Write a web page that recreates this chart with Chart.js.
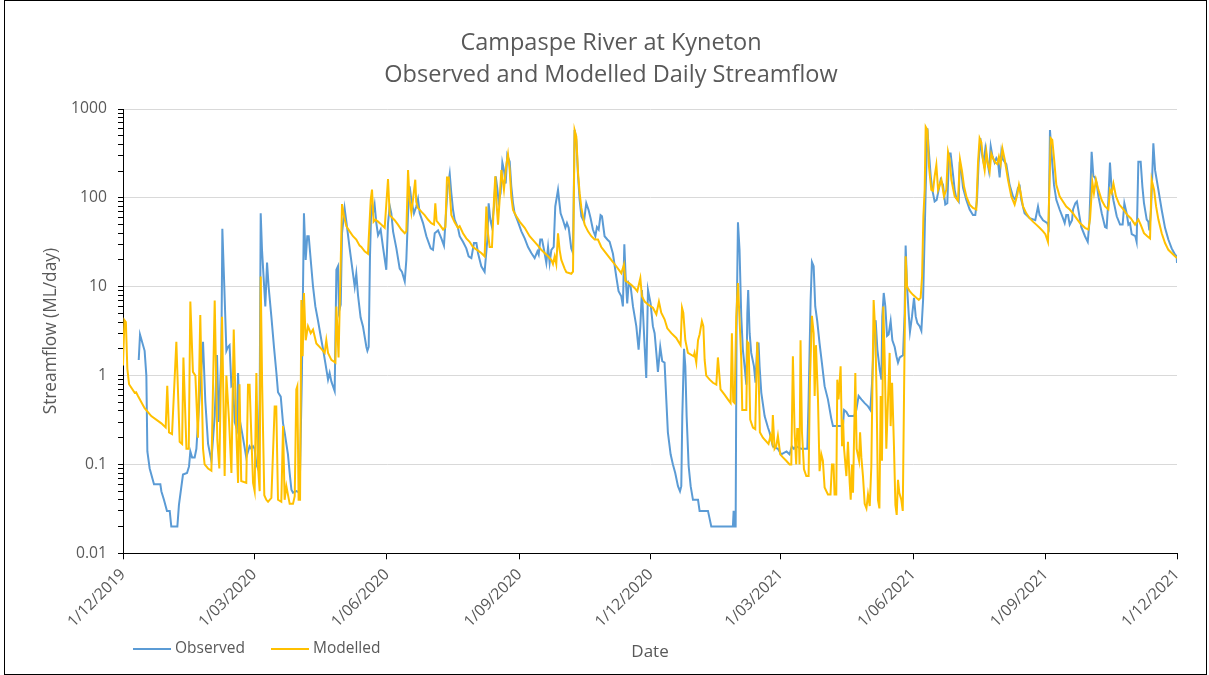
<!DOCTYPE html>
<html>
<head>
<meta charset="utf-8">
<script src="https://cdn.jsdelivr.net/npm/chart.js@4/dist/chart.umd.min.js"></script>
<style>
  html, body { margin: 0; padding: 0; background: #fff; }
</style>
</head>
<body>
<canvas id="flowChart" width="1209" height="675"></canvas>
<script>
// days counted from 1/12/2019, flows in ML/day
const obsDay = [10.9, 11.8, 15, 16.2, 16.9, 18.5, 21.5, 25.9, 26.6, 28.4, 30.5, 32.4, 33.5, 37.7, 38.8, 41.6, 44.4, 45.8, 46.7, 47.9,
  49.7, 50.9, 55.5, 57.1, 59, 61.3, 63.6, 65.2, 66.4, 68.2, 68.9, 70.1, 71.7, 72.8, 73.9, 75.2, 76.3, 77.5, 79, 79.8,
  80.9, 83.2, 85.5, 87.8, 89, 90.2, 91.3, 92.5, 93.6, 94.8, 95.5, 96.4, 98.7, 99.9, 101, 102.9, 104.7, 106.4, 107.5, 109.4,
  111, 112.1, 114.4, 115.6, 116.8, 117.9, 120.2, 122.5, 124.1, 125.5, 126.7, 127.8, 128.8, 130.2, 131.8, 133.4, 135.2, 137.6, 138.7, 140.3,
  142.2, 143.3, 144.5, 146.8, 148, 149.1, 149.8, 151, 151.9, 153.7, 154.9, 157.2, 159.5, 160.7, 161.8, 163, 164.8, 166.4, 168.8, 169.5,
  170.4, 171.3, 172.2, 173.4, 174.5, 175.7, 176.9, 178.7, 180.3, 182.6, 183.8, 185, 186.1, 187.3, 189.6, 191.9, 193.5, 195.4, 196.5, 197.7,
  198.8, 200, 201.8, 203.4, 204.6, 205.8, 208.1, 210.4, 213.4, 215, 216.2, 218.5, 220.8, 222.6, 223.6, 225, 226.6, 227.7, 228.9, 230,
  232.3, 233.5, 235.8, 238.1, 239.7, 241.6, 243.4, 245.1, 246.2, 248.5, 250.8, 252.7, 253.6, 254.8, 255.9, 257.3, 258.5, 259.6, 260.5, 261.9,
  263.1, 264.2, 265.4, 266.5, 268.2, 269.3, 270.5, 271.6, 273.9, 276.3, 278.6, 280.9, 283.2, 285.5, 287.4, 288.3, 289.4, 290.6, 292, 293.6,
  294.8, 295.9, 297.1, 298.7, 299.8, 301.7, 303.5, 305.2, 306.8, 307.9, 309.1, 310.9, 312.1, 313.2, 314.4, 315.6, 316.7, 317.9, 319.7, 321.3,
  322.9, 324.3, 325.9, 327.6, 328.7, 329.9, 331.2, 332.2, 334, 335.9, 337.5, 339.8, 342.1, 343.7, 345.6, 346.7, 347.7, 348.6, 349.7, 350.7,
  352.1, 353.7, 356, 357.6, 358.8, 359.9, 361.8, 362.9, 364.1, 365.9, 367.5, 368.7, 369.9, 371, 372.6, 374, 375.6, 376.8, 377.9, 379.8,
  381.4, 383, 384.9, 386.3, 387.2, 387.9, 389.1, 390, 390.9, 392.3, 393.7, 395.3, 398.8, 399.9, 405.7, 408, 423, 423.5, 424.2, 424.9,
  425.5, 426.5, 427.6, 428.8, 429.9, 431.1, 432.3, 433, 433.6, 434.6, 435.7, 437.6, 438.7, 439.9, 440.8, 441.5, 442.7, 445, 447.3, 448.4,
  450.7, 454.2, 456.5, 460.2, 462.3, 463.9, 465.3, 466.9, 470.4, 474.6, 475.5, 476.9, 477.8, 479, 480.1, 481.5, 483.1, 484.7, 486.6, 488.9,
  491.2, 492.4, 499.3, 500.1, 501.7, 503.3, 507, 508.6, 510.2, 512.1, 514.4, 516.7, 518.3, 519.5, 520.9, 522, 523.2, 524.8, 526, 526.6,
  527.6, 528.7, 529.9, 531, 532.4, 533.6, 535.2, 536.4, 537.5, 538.7, 541, 542.1, 542.8, 543.8, 544.9, 545.8, 547.2, 548.6, 549.8, 550.9,
  552.5, 553.7, 554.9, 556, 556.7, 557.9, 558.8, 560.2, 561.3, 562.9, 564.3, 565.7, 567.1, 568.7, 570.3, 571.7, 572.9, 574, 575.7, 576.8,
  577.9, 579.6, 580.3, 581.4, 582.6, 584.9, 587.2, 589.5, 591.1, 592.3, 593.4, 594.6, 595.7, 596.9, 598.1, 599.2, 600.6, 601.8, 602.9, 604.5,
  605.7, 606.8, 608, 609.2, 610.3, 612.6, 614.9, 617.2, 618.9, 620.7, 621.9, 623, 625.3, 628.8, 632.7, 634.6, 635.7, 638.1, 641.1, 642,
  642.9, 644.3, 645.7, 647.3, 649.6, 651.9, 653.1, 654.2, 655.4, 656.6, 658.2, 658.9, 660.5, 661.6, 663, 664.6, 667.2, 669.1, 670.2, 671.1,
  671.8, 673, 674.1, 675.3, 676.5, 678.8, 681.1, 682.2, 683.4, 684.5, 685.7, 686.9, 689.2, 691.5, 693.3, 694.5, 696.1, 697.3, 698.4, 699.6,
  702.1, 703, 704.2, 705.8, 707, 708.1, 710, 711.1, 711.8, 713, 714.6, 715.8, 718.1, 720.4, 722.7, 725, 727.3, 729.6, 730.8, 731];
const obsFlow = [1.5, 2.9, 1.9, 1.0, 0.14, 0.09, 0.06, 0.06, 0.05, 0.04, 0.03, 0.03, 0.02, 0.02, 0.035, 0.077, 0.08, 0.095, 0.14, 0.12,
  0.12, 0.15, 2.4, 0.51, 0.17, 0.11, 0.35, 1.7, 0.3, 1.7, 45, 12, 1.9, 2.1, 2.2, 0.76, 0.79, 0.3, 0.25, 1.07,
  0.32, 0.2, 0.12, 0.16, 0.15, 0.16, 0.15, 0.1, 0.09, 0.54, 67, 26, 6, 18.7, 10, 4.6, 2.1, 1.07, 0.65, 0.58,
  0.29, 0.23, 0.13, 0.08, 0.052, 0.048, 0.05, 0.048, 1.07, 67, 20, 37, 37, 20, 10, 6, 4.2, 2.5, 2.0, 1.4,
  0.9, 1.07, 0.86, 0.67, 15.5, 17, 5.3, 6.3, 40, 76, 54, 27, 14, 10, 14, 8, 4.5, 3.6, 2.1, 1.9,
  2.1, 22, 80, 67, 84, 52, 38, 44, 28, 15.5, 52, 81, 67, 42, 27, 16, 14.7, 11.5, 20, 67,
  135, 95, 67, 80, 97, 67, 52, 37, 27, 26, 40, 43, 35, 29, 52, 123, 186, 113, 73, 57,
  46, 37, 32, 27, 22, 21, 31, 31, 24, 17, 14.7, 34, 87, 56, 47, 80, 175, 128, 91, 113,
  250, 206, 145, 303, 255, 135, 87, 67, 54, 42, 35, 28, 24, 21, 25, 23, 34, 34, 26, 18.5,
  28, 18.5, 26, 28, 80, 123, 67, 56, 46, 52, 46, 27, 24, 580, 450, 175, 95, 62, 54, 87,
  73, 59, 44, 37, 47, 44, 64, 62, 37, 34, 32, 23.5, 13, 8.9, 7.8, 6, 30, 13, 6.5, 11,
  10, 6, 3.6, 1.96, 3.6, 9.2, 2.1, 0.94, 9.2, 6.5, 3.6, 3.0, 1.8, 1.1, 2.1, 1.45, 1.4, 0.54, 0.23, 0.13,
  0.1, 0.08, 0.057, 0.05, 0.057, 0.35, 2.0, 1.27, 0.35, 0.096, 0.057, 0.04, 0.04, 0.03, 0.03, 0.02, 0.02, 0.03, 0.02, 0.02,
  3.0, 53, 26, 4.6, 1.96, 1.27, 0.79, 5, 9.2, 3.0, 1.8, 1.27, 0.83, 2.3, 2.3, 1.27, 0.64, 0.35, 0.26, 0.23,
  0.16, 0.15, 0.13, 0.14, 0.13, 0.16, 0.15, 0.16, 0.15, 0.15, 0.54, 7.1, 19, 17, 6, 4.1, 2.3, 1.4, 0.76, 0.54,
  0.33, 0.27, 0.27, 0.41, 0.39, 0.35, 0.35, 0.41, 0.59, 0.54, 0.49, 0.45, 0.41, 0.83, 3.0, 4.2, 1.96, 1.17, 0.9, 4.6,
  8.5, 6, 2.8, 2.9, 4.1, 2.5, 2.1, 1.65, 1.4, 1.6, 1.7, 5, 29, 10, 5, 3.1, 4.6, 7.5, 4.6, 3.9,
  3.6, 3.2, 7.1, 40, 123, 605, 350, 175, 123, 91, 95, 123, 160, 140, 84, 87, 315, 315, 180, 123,
  100, 91, 255, 200, 130, 95, 74, 64, 64, 95, 250, 470, 315, 250, 360, 270, 200, 380, 300, 250,
  280, 260, 170, 330, 270, 240, 140, 104, 95, 130, 135, 95, 67, 59, 56, 80, 64, 56, 52, 47,
  580, 270, 140, 95, 74, 59, 52, 64, 64, 50, 56, 74, 87, 91, 67, 47, 37, 32, 52, 145,
  330, 175, 170, 145, 104, 67, 47, 46, 94, 250, 123, 94, 62, 50, 50, 87, 67, 50, 52, 39,
  37, 32, 255, 255, 134, 87, 57, 54, 43, 74, 410, 205, 123, 73, 46, 34, 27, 23, 22, 18.5];

const modDay = [0, 1, 2, 3, 4.2, 8.1, 9.1, 10.4, 15, 19.6, 26.6, 29.6, 30.7, 31.9, 34, 37, 39.3, 41, 41.9, 44,
  45.6, 46.7, 48.5, 50.2, 52, 53.6, 55.5, 56.6, 59, 61.3, 63.6, 65.4, 66.8, 68.7, 70.5, 71.7, 73.5, 75.2, 76.8, 78.6,
  79.8, 80.8, 82, 85.5, 86.7, 87.8, 89, 90.2, 91.3, 92.5, 93.6, 94.8, 95.5, 96.5, 98, 99.4, 100.6, 102.9, 105.2, 106.3,
  107.5, 109.8, 111, 112.1, 113.3, 115.6, 117.9, 119.1, 120.2, 120.9, 121.8, 122.8, 123.7, 124.6, 125.5, 126.7, 128.3, 130.2, 131.8, 134.1,
  137.6, 139.9, 141, 142.2, 144.5, 147.3, 148, 149.5, 151.9, 153.3, 154.9, 157.2, 159.5, 161.8, 164.1, 165.3, 167.6, 169.9, 171.8, 172.7,
  173.8, 175, 176.9, 179.2, 181.5, 183.8, 185, 188.4, 190.7, 193, 195.4, 196.5, 197.7, 198.8, 200, 201.1, 202.7, 203.4, 204.6, 206.9,
  209.2, 211.5, 213.8, 215.7, 216.6, 217.5, 219.6, 222, 223.6, 224.7, 225.9, 227.7, 230, 232.3, 233.5, 235.8, 238.1, 240.4, 242.7, 246.2,
  248.5, 250.8, 252, 253.1, 254.3, 255.9, 257.3, 258.2, 258.9, 260.1, 261.2, 262.4, 264.2, 265.9, 267, 268.2, 269.3, 270.5, 272.8, 275.1,
  278.6, 282, 285.5, 287.8, 290.1, 292.4, 294.8, 297.1, 298.2, 299.4, 300.5, 301.7, 302.8, 304, 306.3, 307.5, 310.9, 312.1, 313.2, 314.4,
  315.6, 316.7, 317.9, 320.2, 322.5, 324.8, 327.1, 329.4, 331.7, 334, 338.6, 342.1, 345.6, 347.4, 348.4, 350.2, 352.5, 354.8, 356.7, 358.8,
  359.9, 361.8, 364.1, 367.5, 369.9, 371.7, 373.3, 375.6, 377.5, 380.3, 383.7, 386.7, 387.7, 388.6, 390, 391.8, 395.8, 396.4, 397.6, 398.8,
  399.9, 401.5, 402.5, 403.4, 404.5, 406.9, 409.2, 411.5, 412.6, 414.4, 417.2, 419.5, 421.4, 422.3, 423.2, 424.2, 425.3, 426.5, 427.6, 428.8,
  429.5, 432.3, 433, 433.9, 435, 436.9, 438.5, 439.9, 440.8, 441.7, 443.8, 447.7, 449.1, 450.1, 450.7, 451.9, 453, 454.2, 455.8, 457.7,
  460, 462.3, 463.5, 464.6, 465.8, 466.9, 467.6, 468.6, 469.2, 469.9, 470.9, 472.3, 473.9, 475.5, 476.4, 477.8, 479, 479.7, 480.6, 482,
  483.1, 484.3, 485.4, 486.6, 488.9, 490.7, 491.7, 492.8, 493.5, 494.7, 495.4, 496.3, 497.7, 498.7, 499.4, 500.1, 501.7, 502.8, 504, 504.7,
  505.6, 506.3, 507.9, 508.8, 510.5, 511.2, 512.1, 513.2, 514.4, 515.6, 516.7, 517.9, 519, 520.6, 521.8, 522.7, 523.6, 524.6, 525.5, 526.4,
  527.3, 528.3, 529.4, 531.7, 532.4, 533.4, 534.7, 535.7, 536.6, 537.5, 538.4, 539.8, 540.8, 541.7, 542.8, 543.8, 545.6, 547.9, 551.9, 553.2,
  554.2, 555.1, 556, 556.7, 557.9, 559, 560.6, 561.8, 562.9, 564.1, 565.3, 567.6, 569.4, 571, 572.2, 573.4, 574.5, 576.8, 579.1, 580.5,
  581.9, 583.3, 584.9, 587.2, 589.5, 591.8, 593, 594.1, 595.3, 596.4, 597.6, 598.8, 599.9, 601.1, 602.2, 603.4, 605, 606.4, 607.5, 608.7,
  609.9, 611.5, 613.8, 616.1, 618.4, 620.3, 621.4, 622.6, 624.2, 626.5, 628.8, 631.1, 633.4, 635.7, 638.1, 639.7, 641.5, 643.4, 644.5, 645.7,
  647.3, 649.6, 651.9, 654.2, 656.6, 658.9, 660.3, 663.7, 667.2, 669.5, 670.7, 672.3, 673.4, 674.8, 676.5, 678.8, 681.1, 683.4, 684.5, 685.7,
  686.9, 688.7, 691, 693.8, 696.6, 698.9, 701.9, 704.2, 705.8, 708.1, 710.4, 712.3, 713.4, 715.1, 716.5, 718.1, 720.4, 722.7, 725, 727.3,
  729.6, 731];
const modFlow = [1.3, 4.2, 4.0, 1.2, 0.8, 0.64, 0.65, 0.59, 0.43, 0.35, 0.29, 0.26, 0.77, 0.23, 0.22, 2.4, 0.18, 0.17, 1.6, 0.15,
  0.15, 6.8, 1.1, 1.0, 0.2, 4.8, 0.15, 0.1, 0.09, 0.085, 7.0, 0.19, 0.09, 4.6, 0.074, 1.0, 0.32, 0.08, 3.3, 0.23,
  0.062, 0.8, 0.065, 0.062, 0.79, 0.79, 0.21, 0.062, 0.05, 1.07, 0.096, 0.05, 13, 0.8, 0.045, 0.04, 0.038, 0.042, 0.45, 0.45,
  0.04, 0.038, 0.27, 0.04, 0.057, 0.036, 0.036, 0.044, 0.7, 0.76, 0.04, 0.04, 7.1, 1.65, 8.5, 2.5, 3.6, 3.0, 3.3, 2.3,
  2.0, 1.8, 2.5, 1.8, 1.5, 1.4, 6.0, 1.6, 85, 62, 48, 42, 37, 34, 29, 28, 25, 23.5, 95, 124,
  54, 57, 54, 50, 46, 163, 64, 56, 50, 44, 40, 42, 206, 95, 68, 95, 160, 90, 77, 70,
  64, 57, 52, 50, 87, 55, 50, 44, 47, 170, 170, 64, 53, 46, 48, 40, 35, 32, 28, 25.5,
  24, 22, 80, 40, 28, 28, 95, 175, 95, 50, 95, 206, 123, 240, 310, 206, 103, 73, 62, 54,
  46, 37, 32, 29, 26, 24, 22, 20, 18, 22, 18, 40, 26, 20, 16, 14.6, 14, 14.8, 580, 490,
  190, 113, 77, 50, 42, 37, 34, 34, 28, 25, 20, 17, 14.2, 17.7, 11.7, 11.2, 10.5, 9.7, 8.9, 12.5,
  7.8, 6.8, 6.3, 5.8, 4.9, 6.8, 5.1, 4.3, 3.4, 3.0, 2.65, 2.2, 5.8, 5.1, 2.5, 1.8, 1.65, 1.8, 1.4, 2.5,
  2.9, 4.1, 3.6, 1.5, 1.0, 0.9, 0.83, 0.79, 1.6, 0.7, 0.61, 0.54, 0.49, 3.0, 0.51, 0.49, 4.6, 11, 4.3, 1.5,
  0.41, 0.41, 2.4, 2.3, 0.32, 0.26, 0.25, 2.4, 1.07, 0.23, 0.2, 0.17, 0.21, 0.18, 0.36, 0.15, 0.16, 0.21, 0.13, 0.12,
  0.11, 0.1, 0.1, 1.65, 0.23, 0.1, 0.25, 0.25, 0.1, 2.5, 0.23, 0.088, 0.074, 0.074, 0.83, 4.7, 3.0, 0.59, 2.2, 0.54,
  0.084, 0.13, 0.11, 0.055, 0.046, 0.046, 0.1, 0.1, 0.046, 0.046, 0.9, 0.54, 1.27, 0.16, 0.32, 0.15, 0.074, 0.18, 0.062, 0.04,
  0.1, 0.048, 1.07, 0.15, 0.11, 0.23, 0.12, 0.074, 0.036, 0.032, 0.046, 0.034, 0.095, 7.1, 3.0, 0.54, 0.04, 0.032, 0.59, 0.11,
  6.0, 1.5, 0.15, 1.8, 0.27, 0.83, 0.16, 0.035, 0.027, 0.067, 0.048, 0.04, 0.03, 0.64, 22, 10, 8.9, 8.1, 7.1, 7.5,
  13, 62, 123, 630, 580, 225, 123, 120, 175, 235, 123, 160, 104, 123, 330, 270, 160, 104, 93, 270,
  200, 134, 104, 84, 77, 74, 250, 470, 420, 270, 205, 330, 240, 200, 315, 280, 250, 240, 290, 240,
  360, 270, 160, 104, 84, 110, 140, 113, 80, 67, 59, 54, 50, 46, 42, 39, 32, 470, 450, 280,
  140, 104, 91, 80, 74, 67, 62, 52, 46, 44, 58, 150, 113, 160, 123, 94, 80, 74, 123, 113,
  145, 104, 84, 74, 64, 59, 50, 57, 50, 40, 37, 35, 160, 123, 80, 57, 40, 31, 26, 24,
  22, 21];

const seriesNames = ['Observed', 'Modelled'];
const seriesColors = ['#5B9BD5', '#FFC000'];
const titleLines = ['Campaspe River at Kyneton', 'Observed and Modelled Daily Streamflow'];
const xTickDays = [0, 91, 183, 275, 366, 456, 548, 640, 731];
const xTickLabels = ['1/12/2019', '1/03/2020', '1/06/2020', '1/09/2020', '1/12/2020', '1/03/2021', '1/06/2021', '1/09/2021', '1/12/2021'];
const yDecades = [0.01, 0.1, 1, 10, 100, 1000];
const yTickLabels = ['0.01', '0.1', '1', '10', '100', '1000'];

const textGrey = '#595959';
const FONT = '"Open Sans", "DejaVu Sans", sans-serif';

// log ticks: every 1..9 x decade, labelled only on the decade
const yTicks = [];
yDecades.forEach((d, i) => {
    const top = i === yDecades.length - 1 ? 1 : 9;
    for (let m = 1; m <= top; m++) yTicks.push(+(m * d).toPrecision(3));
});
const decadeIndex = v => yDecades.findIndex(d => Math.abs(v / d - 1) < 1e-6);

// title + legend drawn by hand so they sit where the original has them
const chartDecor = {
    id: 'chartDecor',
    afterDraw(chart) {
        const ctx = chart.ctx;
        ctx.save();
        ctx.fillStyle = textGrey;
        ctx.textAlign = 'center';
        ctx.textBaseline = 'alphabetic';
        ctx.font = '23.5px ' + FONT;
        ctx.fillText(titleLines[0], 611, 49.5);
        ctx.fillText(titleLines[1], 611, 81.5);

        const legendX = [133, 271];
        ctx.font = '15.5px ' + FONT;
        ctx.textAlign = 'left';
        ctx.textBaseline = 'middle';
        seriesNames.forEach((name, i) => {
            const x = legendX[i];
            ctx.strokeStyle = seriesColors[i];
            ctx.lineWidth = 2;
            ctx.beginPath();
            ctx.moveTo(x, 649);
            ctx.lineTo(x + 38, 649);
            ctx.stroke();
            ctx.fillText(name, x + 42, 649);
        });

        ctx.strokeStyle = '#000';
        ctx.lineWidth = 1;
        ctx.strokeRect(4.5, 0.5, 1202, 674);
        ctx.restore();
    }
};

const toPoints = (days, flows) => days.map((d, i) => ({ x: d, y: flows[i] }));

new Chart(document.getElementById('flowChart'), {
    type: 'line',
    data: {
        datasets: [
            { label: seriesNames[0], data: toPoints(obsDay, obsFlow), borderColor: seriesColors[0], borderWidth: 2, pointRadius: 0, tension: 0, order: 2 },
            { label: seriesNames[1], data: toPoints(modDay, modFlow), borderColor: seriesColors[1], borderWidth: 2, pointRadius: 0, tension: 0, order: 1 }
        ]
    },
    options: {
        responsive: false,
        animation: false,
        devicePixelRatio: 1,
        layout: { padding: { top: 109, right: 32, bottom: 0, left: 0 } },
        plugins: { legend: { display: false }, title: { display: false }, tooltip: { enabled: false } },
        scales: {
            x: {
                type: 'linear', min: 0, max: 731,
                afterBuildTicks: s => { s.ticks = xTickDays.map(v => ({ value: v })); },
                afterFit: s => { s.height = 121.7; },
                ticks: {
                    autoSkip: false, minRotation: 45, maxRotation: 45, padding: 6,
                    color: textGrey, font: { family: FONT, size: 15.7 },
                    callback: (v) => xTickLabels[xTickDays.indexOf(v)]
                },
                grid: { drawOnChartArea: false, tickLength: 6, tickColor: '#000' },
                border: { color: '#000', width: 1 },
                title: { display: true, text: 'Date', color: textGrey, font: { family: FONT, size: 17 }, padding: { top: 0, bottom: 13 } }
            },
            y: {
                type: 'logarithmic', min: 0.01, max: 1000,
                afterBuildTicks: s => { s.ticks = yTicks.map(v => ({ value: v, major: decadeIndex(v) >= 0 })); },
                afterFit: s => { s.width = 123; },
                ticks: {
                    autoSkip: false, padding: 11,
                    color: textGrey, font: { family: FONT, size: 15.7 },
                    callback: (v) => { const i = decadeIndex(v); return i >= 0 ? yTickLabels[i] : ''; }
                },
                grid: {
                    color: c => (c.tick && decadeIndex(c.tick.value) > 0) ? '#D9D9D9' : 'rgba(0,0,0,0)',
                    tickColor: '#000', tickLength: 5
                },
                border: { color: '#000', width: 1 },
                title: { display: true, text: 'Streamflow (ML/day)', color: textGrey, font: { family: FONT, size: 17.3 }, padding: { top: 41, bottom: 0 } }
            }
        }
    },
    plugins: [chartDecor]
});
</script>
</body>
</html>
